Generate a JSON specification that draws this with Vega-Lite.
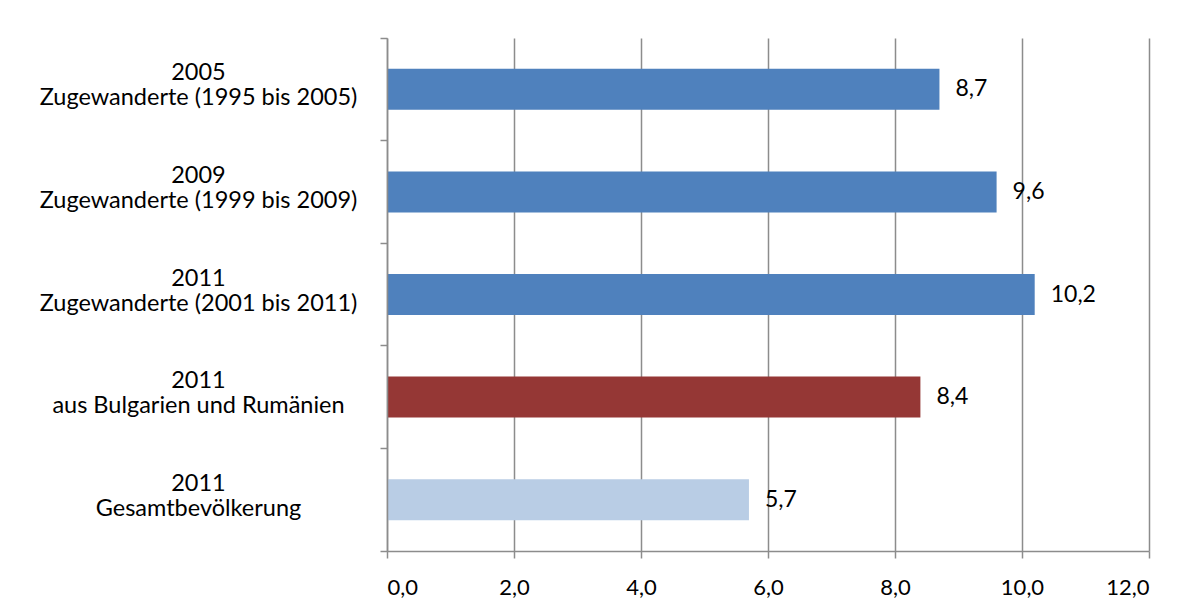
{
  "$schema": "https://vega.github.io/schema/vega-lite/v6.json",
  "autosize": {"type": "none"},
  "width": 762,
  "height": 513,
  "padding": {"left": 387, "top": 38, "right": 50, "bottom": 61},
  "background": "white",
  "config": {
    "locale": {
      "number": {"decimal": ",", "thousands": ".", "grouping": [3], "currency": ["", " €"]}
    },
    "view": {"stroke": null},
    "font": "Lato",
    "axis": {"labelFont": "Lato", "labelColor": "#000000"}
  },
  "data": {
    "values": [
      {"kategorie": "2005\nZugewanderte (1995 bis 2005)", "gruppe": "Zugewanderte", "quote": 8.7},
      {"kategorie": "2009\nZugewanderte (1999 bis 2009)", "gruppe": "Zugewanderte", "quote": 9.6},
      {"kategorie": "2011\nZugewanderte (2001 bis 2011)", "gruppe": "Zugewanderte", "quote": 10.2},
      {"kategorie": "2011\naus Bulgarien und Rumänien", "gruppe": "Bulgarien/Rumänien", "quote": 8.4},
      {"kategorie": "2011\nGesamtbevölkerung", "gruppe": "Gesamt", "quote": 5.7}
    ]
  },
  "encoding": {
    "y": {
      "field": "kategorie",
      "type": "nominal",
      "sort": null,
      "scale": {"paddingInner": 0, "paddingOuter": 0}
    },
    "x": {
      "field": "quote",
      "type": "quantitative",
      "scale": {"domain": [0, 12], "nice": false},
      "axis": {
        "title": null,
        "values": [0, 2, 4, 6, 8, 10, 12],
        "format": ".1f",
        "grid": true,
        "gridColor": "#8c8c8c",
        "gridWidth": 1.5,
        "domainColor": "#8c8c8c",
        "domainWidth": 1.5,
        "tickColor": "#8c8c8c",
        "tickWidth": 1.5,
        "tickSize": 7,
        "labelFontSize": 22,
        "labelPadding": 19
      }
    }
  },
  "layer": [
    {
      "mark": {"type": "bar", "height": {"band": 0.4}},
      "encoding": {
        "y": {
          "field": "kategorie",
          "type": "nominal",
          "sort": null,
          "axis": {
            "orient": "left",
            "title": null,
            "zindex": 1,
            "bandPosition": 0,
            "labelOffset": -16,
            "labelExpr": "split(datum.label, '\\n')",
            "labelAlign": "center",
            "labelBaseline": "middle",
            "labelLineHeight": 25,
            "labelFontSize": 23.5,
            "labelPadding": 182,
            "labelLimit": 400,
            "domainColor": "#8c8c8c",
            "domainWidth": 1.5,
            "tickColor": "#8c8c8c",
            "tickWidth": 1.5,
            "tickSize": 7
          }
        },
        "color": {
          "field": "gruppe",
          "type": "nominal",
          "scale": {
            "domain": ["Zugewanderte", "Bulgarien/Rumänien", "Gesamt"],
            "range": ["#4f81bd", "#953735", "#b9cde5"]
          },
          "legend": null
        }
      }
    },
    {
      "mark": {"type": "text", "align": "left", "baseline": "middle", "dx": 16, "fontSize": 23, "color": "#000000"},
      "encoding": {
        "y": {
          "field": "kategorie",
          "type": "nominal",
          "sort": null,
          "axis": {
            "orient": "left",
            "title": null,
            "zindex": 1,
            "bandPosition": 1,
            "values": ["2011\nGesamtbevölkerung"],
            "labels": false,
            "domain": false,
            "tickColor": "#8c8c8c",
            "tickWidth": 1.5,
            "tickSize": 7
          }
        },
        "text": {"field": "quote", "type": "quantitative", "format": ".1f"}
      }
    }
  ],
  "resolve": {"axis": {"y": "independent"}}
}
